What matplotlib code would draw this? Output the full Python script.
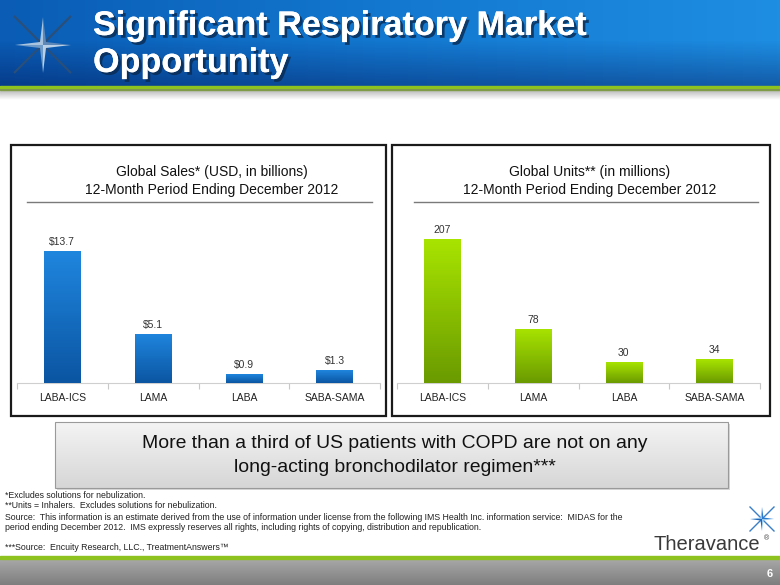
import numpy as np
import matplotlib
matplotlib.use("Agg")
import matplotlib.pyplot as plt
from matplotlib import font_manager
from matplotlib.colors import LinearSegmentedColormap
from matplotlib.patches import Rectangle, Polygon
import matplotlib.patheffects as pe

# ---------------- data ----------------
categories = ["LABA-ICS", "LAMA", "LABA", "SABA-SAMA"]
sales_values = [13.7, 5.1, 0.9, 1.3]
sales_labels = ["$13.7", "$5.1", "$0.9", "$1.3"]
units_values = [207, 78, 30, 34]
units_labels = ["207", "78", "30", "34"]

title_lines = ["Significant Respiratory Market", "Opportunity"]
sales_title = ["Global Sales* (USD, in billions)", "12-Month Period Ending December 2012"]
units_title = ["Global Units** (in millions)", "12-Month Period Ending December 2012"]
callout_lines = ["More than a third of US patients with COPD are not on any",
                 "long-acting bronchodilator regimen***"]
footnotes = ["*Excludes solutions for nebulization.",
             "**Units = Inhalers.  Excludes solutions for nebulization.",
             "Source:  This information is an estimate derived from the use of information under license from the following IMS Health Inc. information service:  MIDAS for the",
             "period ending December 2012.  IMS expressly reserves all rights, including rights of copying, distribution and republication."]
footnote_last = "***Source:  Encuity Research, LLC., TreatmentAnswers\u2122"
page_number = "6"
brand = "Theravance"

# ---------------- fonts ----------------
names = {f.name for f in font_manager.fontManager.ttflist}
HAS_NARROW = "Liberation Sans Narrow" in names
NARROW = "Liberation Sans Narrow" if HAS_NARROW else "Liberation Sans"
REG = "Liberation Sans" if "Liberation Sans" in names else "DejaVu Sans"
# size factor: regular font is wider than the narrow original
NF = 1.0 if HAS_NARROW else 0.82

W, H = 780, 585
fig = plt.figure(figsize=(W / 100, H / 100), dpi=100)
bg = fig.add_axes([0, 0, 1, 1])
bg.set_xlim(0, W)
bg.set_ylim(H, 0)
bg.axis("off")


def grad_rect(ax, x0, y0, x1, y1, c_top, c_bot, z=0):
    cmap = LinearSegmentedColormap.from_list("g", [c_top, c_bot])
    arr = np.linspace(0, 1, 256).reshape(-1, 1)
    ax.imshow(arr, cmap=cmap, extent=(x0, x1, y1, y0), origin="upper",
              aspect="auto", zorder=z, interpolation="bilinear")


# header gradient (horizontal)
hcmap = LinearSegmentedColormap.from_list("h", ["#0a5cb4", "#1378d0", "#1e8ee2"])
harr = np.linspace(0, 1, 256).reshape(1, -1)
bg.imshow(harr, cmap=hcmap, extent=(0, W, 86, 0), origin="upper", aspect="auto", zorder=0)
dark = np.zeros((64, 2, 4))
dark[..., 2] = 0.25
dark[..., 3] = np.linspace(0, 0.35, 64).reshape(-1, 1)
bg.imshow(dark, extent=(0, W, 86, 40), origin="upper", aspect="auto", zorder=0.5)
bg.add_patch(Rectangle((0, 86), W, 3.5, color="#8dc21f", zorder=1))
sh = np.zeros((32, 2, 4))
sh[..., :3] = 0.45
sh[..., 3] = np.linspace(0.55, 0, 32).reshape(-1, 1)
bg.imshow(sh, extent=(0, W, 100, 89.5), origin="upper", aspect="auto", zorder=1)

# header title
for i, t in enumerate(title_lines):
    bg.text(93, 35 + i * 37, t, fontsize=30 * NF, fontweight="bold", family=NARROW,
            color="white", va="baseline", ha="left", zorder=3,
            path_effects=[pe.withSimplePatchShadow(offset=(2, -2), shadow_rgbFace="#0a2a50", alpha=0.8), pe.Normal()])

# header star logo
cx, cy = 43, 45
bg.plot([14, 71], [16, 73], color="#2a4f7a", lw=1.6, zorder=2, solid_capstyle="butt")
bg.plot([14, 71], [73, 16], color="#2a4f7a", lw=1.6, zorder=2, solid_capstyle="butt")
quad_cols = ["#a9c4df", "#5d88b8", "#6f9bc8", "#b9d0e6"]
s = 28
k = 3
quads = [
    [(cx, cy), (cx, cy - s), (cx - k, cy - k), (cx - s, cy)],
    [(cx, cy), (cx, cy - s), (cx + k, cy - k), (cx + s, cy)],
    [(cx, cy), (cx - s, cy), (cx - k, cy + k), (cx, cy + s)],
    [(cx, cy), (cx + s, cy), (cx + k, cy + k), (cx, cy + s)],
]
for q, c in zip(quads, quad_cols):
    bg.add_patch(Polygon(q, closed=True, facecolor=c, edgecolor="none", zorder=3))

# panel boxes
for (x0, x1) in [(11, 386), (392, 770)]:
    bg.add_patch(Rectangle((x0, 145), x1 - x0, 271, facecolor="white", edgecolor="#1a1a1a", lw=1.6, zorder=1))

# panel titles and separators
for (tx, lines, lx0, lx1) in [(212, sales_title, 27, 372), (590, units_title, 414, 758)]:
    bg.text(tx, 172, lines[0], fontsize=10, family=REG, color="#111", ha="center", va="center", zorder=3)
    bg.text(tx, 190, lines[1], fontsize=10, family=REG, color="#111", ha="center", va="center", zorder=3)
    bg.plot([lx0, lx1], [202, 202], color="#7a7a7a", lw=1.0, zorder=3)

# callout box
bg.add_patch(Rectangle((57, 424), 673, 66, facecolor="#b0b0b0", edgecolor="none", alpha=0.5, zorder=1))
grad_rect(bg, 55, 422, 728, 488, "#f4f4f4", "#d6d6d6", z=1.5)
bg.add_patch(Rectangle((55, 422), 673, 66, facecolor="none", edgecolor="#9a9a9a", lw=0.8, zorder=2))
for i, t in enumerate(callout_lines):
    bg.text(395, 444 + i * 24, t, fontsize=17 * NF, family=NARROW, color="#111",
            ha="center", va="center", zorder=3)

# footnotes
fy = [495, 506, 517, 527]
for y, t in zip(fy, footnotes):
    bg.text(5, y, t, fontsize=7.7 * NF, family=NARROW, color="#222", ha="left", va="center", zorder=3)
bg.text(5, 548, footnote_last, fontsize=7.7 * NF, family=NARROW, color="#222", ha="left", va="center", zorder=3)

# footer
bg.add_patch(Rectangle((0, 555.5), W, 3.5, color="#8dc21f", zorder=2))
grad_rect(bg, 0, 559, W, H, "#a8a8a8", "#7e7e7e", z=1)
bg.text(770, 574, page_number, fontsize=8, fontweight="bold", family=REG, color="white",
        ha="center", va="center", zorder=3)

# brand logo
bg.text(707, 545, brand, fontsize=14.5, family=REG, color="#3a3a3a", ha="center", va="center", zorder=3)
bg.text(767, 539, "\u00ae", fontsize=5, family=REG, color="#3a3a3a", ha="center", va="center", zorder=3)
lx, ly, ls = 762, 519, 12
bg.plot([lx - ls, lx + ls], [ly - ls, ly + ls], color="#3a7fc6", lw=1.0, zorder=2)
bg.plot([lx - ls, lx + ls], [ly + ls, ly - ls], color="#3a7fc6", lw=1.0, zorder=2)
small = [
    [(lx, ly), (lx, ly - ls), (lx - 1.5, ly - 1.5), (lx - ls, ly)],
    [(lx, ly), (lx, ly - ls), (lx + 1.5, ly - 1.5), (lx + ls, ly)],
    [(lx, ly), (lx - ls, ly), (lx - 1.5, ly + 1.5), (lx, ly + ls)],
    [(lx, ly), (lx + ls, ly), (lx + 1.5, ly + 1.5), (lx, ly + ls)],
]
for q, c in zip(small, ["#8cc0ea", "#2b7bcf", "#1f66b8", "#9ccbf0"]):
    bg.add_patch(Polygon(q, closed=True, facecolor=c, edgecolor="none", zorder=3))

bg.set_xlim(0, W)
bg.set_ylim(H, 0)


# ---------------- bar charts ----------------
def px_axes(x0, y0, x1, y1):
    return fig.add_axes([x0 / W, 1 - y1 / H, (x1 - x0) / W, (y1 - y0) / H])


def bar_chart(ax, vals, labels, ymax, c_top, c_bot):
    x = np.arange(len(categories))
    bars = ax.bar(x, vals, width=0.4, color=c_bot, edgecolor="none", zorder=2)
    cmap = LinearSegmentedColormap.from_list("b", [c_bot, c_top])
    grad = np.linspace(0, 1, 128).reshape(-1, 1)
    for p in bars:
        bb = p.get_bbox()
        im = ax.imshow(grad, cmap=cmap, extent=(bb.x0, bb.x1, bb.y0, bb.y1),
                       origin="lower", aspect="auto", zorder=3)
        im.set_clip_path(p)
    ax.bar_label(bars, labels=labels, padding=3, fontsize=7.5, family=REG, color="#333")
    ax.set_xlim(-0.5, len(categories) - 0.5)
    ax.set_ylim(0, ymax)
    ax.set_xticks(x, categories)
    ax.set_xticks(np.arange(-0.5, len(categories)), minor=True)
    ax.tick_params(axis="x", which="major", length=0, pad=7, labelsize=7.5, labelcolor="#222")
    ax.tick_params(axis="x", which="minor", length=4, color="#c8c8c8", width=0.8)
    for lab in ax.get_xticklabels():
        lab.set_family(REG)
    ax.set_yticks([])
    for sp in ["top", "left", "right"]:
        ax.spines[sp].set_visible(False)
    ax.spines["bottom"].set_color("#cfcfcf")
    ax.spines["bottom"].set_linewidth(0.8)
    ax.patch.set_alpha(0)


ax1 = px_axes(17, 215, 380, 383)
bar_chart(ax1, sales_values, sales_labels, 17.44, "#1f86de", "#0b55a2")
ax2 = px_axes(397, 215, 760, 383)
bar_chart(ax2, units_values, units_labels, 241.5, "#a8e400", "#6a9a00")

fig.savefig("out.png", dpi=100)
